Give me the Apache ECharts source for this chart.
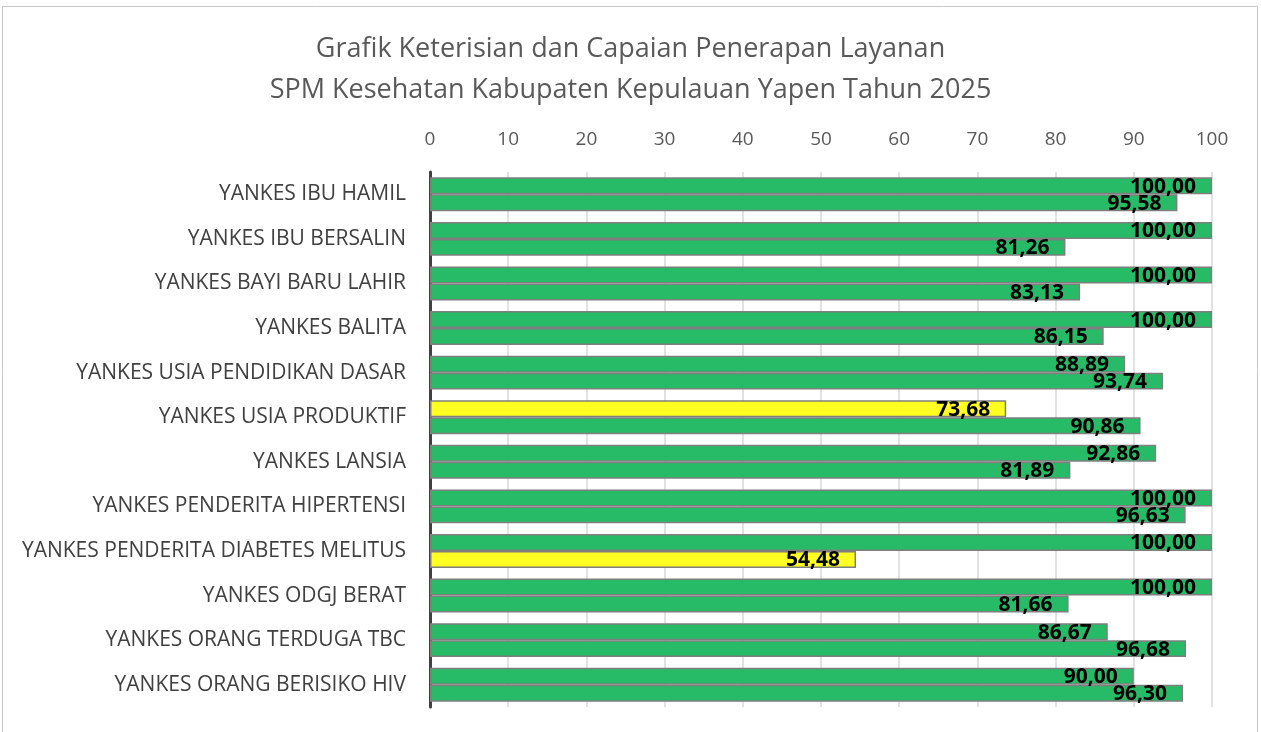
<!DOCTYPE html>
<html>
<head>
<meta charset="utf-8">
<script src="https://cdn.jsdelivr.net/npm/echarts@6/dist/echarts.min.js"></script>
<style>
html,body{margin:0;padding:0;background:#fff;}
#chart{width:1261px;height:732px;}
</style>
</head>
<body>
<div id="chart"></div>
<script>
// kategori layanan
var kategori = [
    'YANKES IBU HAMIL',
    'YANKES IBU BERSALIN',
    'YANKES BAYI BARU LAHIR',
    'YANKES BALITA',
    'YANKES USIA PENDIDIKAN DASAR',
    'YANKES USIA PRODUKTIF',
    'YANKES LANSIA',
    'YANKES PENDERITA HIPERTENSI',
    'YANKES PENDERITA DIABETES MELITUS',
    'YANKES ODGJ BERAT',
    'YANKES ORANG TERDUGA TBC',
    'YANKES ORANG BERISIKO HIV'
];
// keterisian (batang atas)
var keterisian = [100, 100, 100, 100, 88.89, 73.68, 92.86, 100, 100, 100, 86.67, 90.00];
// capaian (batang bawah)
var capaian = [95.58, 81.26, 83.13, 86.15, 93.74, 90.86, 81.89, 96.63, 54.48, 81.66, 96.68, 96.30];
var tickMin = 0, tickMax = 100, tickStep = 10;

var hijau = '#27bb68', kuning = '#ffff22';
var warnaBatang = function(p){ return p.value < 80 ? kuning : hijau; };
var labelAngka = {
    show: true,
    position: 'insideRight',
    distance: 16,
    offset: [0, 1],
    color: '#000',
    fontFamily: 'Open Sans',
    fontWeight: 'bold',
    fontSize: 21,
    formatter: function(p){ return p.value.toFixed(2).replace('.', ','); }
};

var myChart = echarts.init(document.getElementById('chart'));
var option = {
    animation: false,
    title: {
        text: 'Grafik Keterisian dan Capaian Penerapan Layanan\nSPM Kesehatan Kabupaten Kepulauan Yapen Tahun 2025',
        left: 'center',
        top: 24,
        textStyle: {
            fontFamily: 'Open Sans',
            fontWeight: 'normal',
            fontSize: 27,
            color: '#595959',
            lineHeight: 41
        }
    },
    graphic: [{
        type: 'rect',
        shape: {x: 2.5, y: 6.5, width: 1255, height: 760},
        style: {fill: 'none', stroke: '#c8c8c8', lineWidth: 1}
    }],
    grid: {left: 430, right: 49, top: 172, bottom: 25},
    xAxis: {
        type: 'value',
        position: 'top',
        min: tickMin,
        max: tickMax,
        interval: tickStep,
        axisLine: {show: false},
        axisTick: {show: false},
        axisLabel: {
            fontFamily: 'Open Sans',
            fontSize: 19,
            color: '#595959',
            margin: 23
        },
        splitLine: {lineStyle: {color: '#d9d9d9', width: 1.5}}
    },
    yAxis: {
        type: 'category',
        inverse: true,
        data: kategori,
        axisLine: {lineStyle: {color: '#404040', width: 3}},
        axisTick: {show: false},
        axisLabel: {
            fontFamily: 'Open Sans',
            fontSize: 21,
            color: '#404040',
            margin: 24
        }
    },
    series: [{
        name: 'Keterisian',
        type: 'bar',
        data: keterisian,
        barCategoryGap: '24%',
        barGap: '0%',
        itemStyle: {color: warnaBatang, borderColor: '#7f7f7f', borderWidth: 1.5},
        label: labelAngka
    }, {
        name: 'Capaian',
        type: 'bar',
        data: capaian,
        barCategoryGap: '24%',
        barGap: '0%',
        itemStyle: {color: warnaBatang, borderColor: '#7f7f7f', borderWidth: 1.5},
        label: labelAngka
    }]
};
myChart.setOption(option);
</script>
</body>
</html>
